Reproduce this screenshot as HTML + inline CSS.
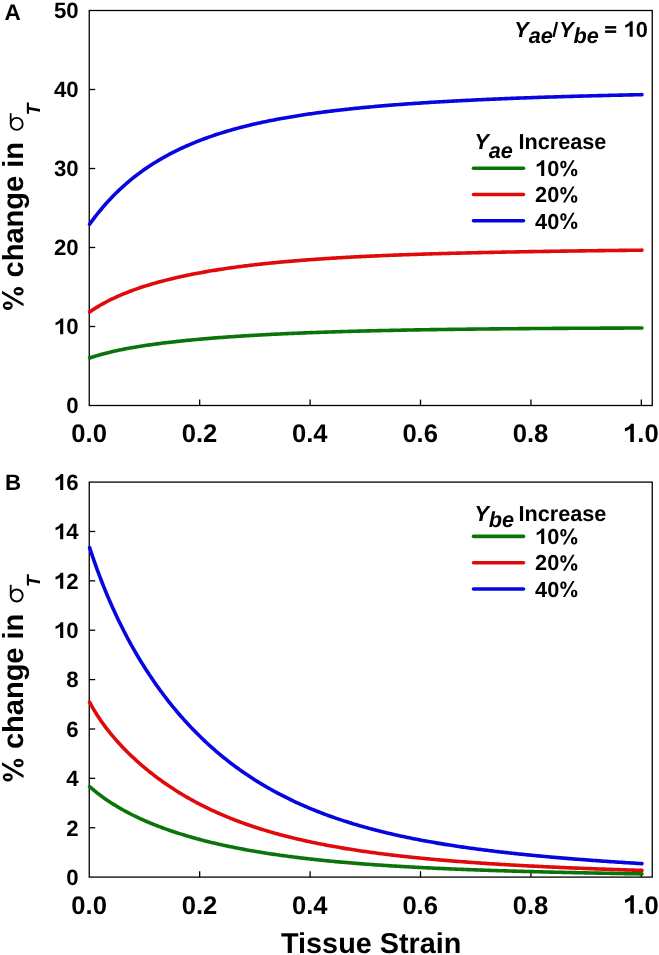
<!DOCTYPE html>
<html><head><meta charset="utf-8">
<style>
html,body{margin:0;padding:0;background:#fff;}
body{width:659px;height:955px;overflow:hidden;}
svg{display:block;will-change:transform;}
.h1,.hp{fill:none;}
text{font-family:"Liberation Sans",sans-serif;font-weight:bold;fill:#000;text-rendering:geometricPrecision;}
</style></head>
<body>
<svg width="659" height="955" viewBox="0 0 659 955">
<rect x="89.25" y="10.5" width="563.0" height="395.0" fill="none" stroke="#000" stroke-width="1.3"/>
<g stroke="#000" stroke-width="1.3">
<line x1="89.25" y1="326.50" x2="95.2" y2="326.50"/>
<line x1="89.25" y1="247.50" x2="95.2" y2="247.50"/>
<line x1="89.25" y1="168.50" x2="95.2" y2="168.50"/>
<line x1="89.25" y1="89.50" x2="95.2" y2="89.50"/>
<line x1="199.67" y1="405.5" x2="199.67" y2="399.6"/>
<line x1="310.09" y1="405.5" x2="310.09" y2="399.6"/>
<line x1="420.51" y1="405.5" x2="420.51" y2="399.6"/>
<line x1="530.93" y1="405.5" x2="530.93" y2="399.6"/>
<line x1="641.35" y1="405.5" x2="641.35" y2="399.6"/>
</g>
<g font-size="22.2" text-anchor="end">
<text x="78.6" y="413.35">0</text>
<text x="78.6" y="334.35"><tspan class="h1">1</tspan>0</text>
<text x="78.6" y="255.35">20</text>
<text x="78.6" y="176.35">30</text>
<text x="78.6" y="97.35">40</text>
<text x="78.6" y="18.35">50</text>
</g>
<g font-size="25.6" text-anchor="middle">
<text x="89.10" y="442.00">0.0</text>
<text x="199.46" y="442.00">0.2</text>
<text x="309.82" y="442.00">0.4</text>
<text x="420.18" y="442.00">0.6</text>
<text x="530.54" y="442.00">0.8</text>
<text x="640.90" y="442.00"><tspan class="h1">1</tspan>.0</text>
</g>
<path d="M89.60,224.25 L91.10,222.17 L92.60,220.12 L94.10,218.12 L95.60,216.17 L97.10,214.25 L98.60,212.37 L100.10,210.53 L101.60,208.73 L103.10,206.96 L104.60,205.23 L106.10,203.54 L107.60,201.87 L109.10,200.24 L110.60,198.65 L112.10,197.08 L113.60,195.54 L115.10,194.03 L116.60,192.55 L118.10,191.10 L119.60,189.67 L121.10,188.28 L122.60,186.90 L124.10,185.56 L125.60,184.23 L127.10,182.94 L128.60,181.66 L130.10,180.41 L131.60,179.18 L133.10,177.97 L134.60,176.78 L136.10,175.62 L137.60,174.47 L139.10,173.35 L140.60,172.24 L142.10,171.16 L143.60,170.09 L145.10,169.04 L146.60,168.01 L148.10,166.99 L149.60,166.00 L151.10,165.02 L152.60,164.05 L154.10,163.10 L155.60,162.17 L157.10,161.26 L158.60,160.35 L160.10,159.47 L161.60,158.59 L163.10,157.74 L164.60,156.89 L166.10,156.06 L167.60,155.24 L169.10,154.44 L170.60,153.65 L172.10,152.87 L173.60,152.10 L175.10,151.35 L176.60,150.61 L178.10,149.88 L179.60,149.16 L181.10,148.45 L182.60,147.75 L184.10,147.07 L185.60,146.39 L187.10,145.73 L188.60,145.07 L190.10,144.43 L191.60,143.79 L193.10,143.16 L194.60,142.55 L196.10,141.94 L197.60,141.34 L199.10,140.75 L200.60,140.17 L202.10,139.60 L203.60,139.04 L205.10,138.49 L206.60,137.94 L208.10,137.40 L209.60,136.87 L211.10,136.35 L212.60,135.83 L214.10,135.32 L215.60,134.82 L217.10,134.33 L218.60,133.85 L220.10,133.37 L221.60,132.89 L223.10,132.43 L224.60,131.97 L226.10,131.52 L227.60,131.07 L229.10,130.63 L230.60,130.20 L232.10,129.77 L233.60,129.35 L235.10,128.93 L236.60,128.52 L238.10,128.12 L239.60,127.72 L241.10,127.33 L242.60,126.94 L244.10,126.56 L245.60,126.18 L247.10,125.81 L248.60,125.44 L250.10,125.08 L251.60,124.72 L253.10,124.37 L254.60,124.02 L256.10,123.68 L257.60,123.34 L259.10,123.01 L260.60,122.68 L262.10,122.35 L263.60,122.03 L265.10,121.72 L266.60,121.40 L268.10,121.09 L269.60,120.79 L271.10,120.49 L272.60,120.19 L274.10,119.90 L275.60,119.61 L277.10,119.33 L278.60,119.04 L280.10,118.77 L281.60,118.49 L283.10,118.22 L284.60,117.95 L286.10,117.69 L287.60,117.43 L289.10,117.17 L290.60,116.91 L292.10,116.66 L293.60,116.41 L295.10,116.17 L296.60,115.93 L298.10,115.69 L299.60,115.45 L301.10,115.22 L302.60,114.99 L304.10,114.76 L305.60,114.53 L307.10,114.31 L308.60,114.09 L310.10,113.87 L311.60,113.66 L313.10,113.45 L314.60,113.24 L316.10,113.03 L317.60,112.83 L319.10,112.62 L320.60,112.42 L322.10,112.23 L323.60,112.03 L325.10,111.84 L326.60,111.65 L328.10,111.46 L329.60,111.27 L331.10,111.09 L332.60,110.91 L334.10,110.73 L335.60,110.55 L337.10,110.37 L338.60,110.20 L340.10,110.02 L341.60,109.85 L343.10,109.69 L344.60,109.52 L346.10,109.35 L347.60,109.19 L349.10,109.03 L350.60,108.87 L352.10,108.71 L353.60,108.56 L355.10,108.40 L356.60,108.25 L358.10,108.10 L359.60,107.95 L361.10,107.80 L362.60,107.66 L364.10,107.51 L365.60,107.37 L367.10,107.23 L368.60,107.09 L370.10,106.95 L371.60,106.81 L373.10,106.68 L374.60,106.54 L376.10,106.41 L377.60,106.28 L379.10,106.15 L380.60,106.02 L382.10,105.89 L383.60,105.77 L385.10,105.64 L386.60,105.52 L388.10,105.39 L389.60,105.27 L391.10,105.15 L392.60,105.03 L394.10,104.92 L395.60,104.80 L397.10,104.68 L398.60,104.57 L400.10,104.46 L401.60,104.34 L403.10,104.23 L404.60,104.12 L406.10,104.02 L407.60,103.91 L409.10,103.80 L410.60,103.70 L412.10,103.59 L413.60,103.49 L415.10,103.38 L416.60,103.28 L418.10,103.18 L419.60,103.08 L421.10,102.98 L422.60,102.89 L424.10,102.79 L425.60,102.69 L427.10,102.60 L428.60,102.50 L430.10,102.41 L431.60,102.32 L433.10,102.22 L434.60,102.13 L436.10,102.04 L437.60,101.95 L439.10,101.87 L440.60,101.78 L442.10,101.69 L443.60,101.60 L445.10,101.52 L446.60,101.43 L448.10,101.35 L449.60,101.27 L451.10,101.19 L452.60,101.10 L454.10,101.02 L455.60,100.94 L457.10,100.86 L458.60,100.78 L460.10,100.71 L461.60,100.63 L463.10,100.55 L464.60,100.48 L466.10,100.40 L467.60,100.33 L469.10,100.25 L470.60,100.18 L472.10,100.10 L473.60,100.03 L475.10,99.96 L476.60,99.89 L478.10,99.82 L479.60,99.75 L481.10,99.68 L482.60,99.61 L484.10,99.54 L485.60,99.47 L487.10,99.41 L488.60,99.34 L490.10,99.27 L491.60,99.21 L493.10,99.14 L494.60,99.08 L496.10,99.02 L497.60,98.95 L499.10,98.89 L500.60,98.83 L502.10,98.77 L503.60,98.70 L505.10,98.64 L506.60,98.58 L508.10,98.52 L509.60,98.46 L511.10,98.40 L512.60,98.35 L514.10,98.29 L515.60,98.23 L517.10,98.17 L518.60,98.12 L520.10,98.06 L521.60,98.01 L523.10,97.95 L524.60,97.89 L526.10,97.84 L527.60,97.79 L529.10,97.73 L530.60,97.68 L532.10,97.63 L533.60,97.57 L535.10,97.52 L536.60,97.47 L538.10,97.42 L539.60,97.37 L541.10,97.32 L542.60,97.27 L544.10,97.22 L545.60,97.17 L547.10,97.12 L548.60,97.07 L550.10,97.02 L551.60,96.98 L553.10,96.93 L554.60,96.88 L556.10,96.83 L557.60,96.79 L559.10,96.74 L560.60,96.70 L562.10,96.65 L563.60,96.60 L565.10,96.56 L566.60,96.52 L568.10,96.47 L569.60,96.43 L571.10,96.38 L572.60,96.34 L574.10,96.30 L575.60,96.26 L577.10,96.21 L578.60,96.17 L580.10,96.13 L581.60,96.09 L583.10,96.05 L584.60,96.01 L586.10,95.97 L587.60,95.93 L589.10,95.89 L590.60,95.85 L592.10,95.81 L593.60,95.77 L595.10,95.73 L596.60,95.69 L598.10,95.65 L599.60,95.61 L601.10,95.58 L602.60,95.54 L604.10,95.50 L605.60,95.47 L607.10,95.43 L608.60,95.39 L610.10,95.36 L611.60,95.32 L613.10,95.29 L614.60,95.25 L616.10,95.21 L617.60,95.18 L619.10,95.15 L620.60,95.11 L622.10,95.08 L623.60,95.04 L625.10,95.01 L626.60,94.98 L628.10,94.94 L629.60,94.91 L631.10,94.88 L632.60,94.84 L634.10,94.81 L635.60,94.78 L637.10,94.75 L638.60,94.72 L640.10,94.68 L641.60,94.65 L641.95,94.65" fill="none" stroke="#0606e0" stroke-width="3.6" stroke-linecap="round" stroke-linejoin="round"/>
<path d="M89.60,311.95 L91.10,310.93 L92.60,309.93 L94.10,308.96 L95.60,308.02 L97.10,307.10 L98.60,306.20 L100.10,305.32 L101.60,304.47 L103.10,303.63 L104.60,302.81 L106.10,302.01 L107.60,301.23 L109.10,300.47 L110.60,299.72 L112.10,298.99 L113.60,298.27 L115.10,297.57 L116.60,296.89 L118.10,296.22 L119.60,295.56 L121.10,294.91 L122.60,294.28 L124.10,293.66 L125.60,293.05 L127.10,292.46 L128.60,291.87 L130.10,291.30 L131.60,290.73 L133.10,290.18 L134.60,289.64 L136.10,289.10 L137.60,288.58 L139.10,288.07 L140.60,287.56 L142.10,287.06 L143.60,286.57 L145.10,286.09 L146.60,285.62 L148.10,285.16 L149.60,284.70 L151.10,284.25 L152.60,283.81 L154.10,283.37 L155.60,282.94 L157.10,282.52 L158.60,282.11 L160.10,281.70 L161.60,281.30 L163.10,280.90 L164.60,280.51 L166.10,280.13 L167.60,279.75 L169.10,279.38 L170.60,279.01 L172.10,278.65 L173.60,278.29 L175.10,277.94 L176.60,277.59 L178.10,277.25 L179.60,276.92 L181.10,276.58 L182.60,276.26 L184.10,275.94 L185.60,275.62 L187.10,275.30 L188.60,275.00 L190.10,274.69 L191.60,274.39 L193.10,274.10 L194.60,273.80 L196.10,273.52 L197.60,273.23 L199.10,272.95 L200.60,272.67 L202.10,272.40 L203.60,272.13 L205.10,271.87 L206.60,271.61 L208.10,271.35 L209.60,271.09 L211.10,270.84 L212.60,270.59 L214.10,270.35 L215.60,270.11 L217.10,269.87 L218.60,269.63 L220.10,269.40 L221.60,269.17 L223.10,268.94 L224.60,268.72 L226.10,268.50 L227.60,268.28 L229.10,268.07 L230.60,267.85 L232.10,267.64 L233.60,267.44 L235.10,267.23 L236.60,267.03 L238.10,266.83 L239.60,266.63 L241.10,266.44 L242.60,266.25 L244.10,266.06 L245.60,265.87 L247.10,265.69 L248.60,265.51 L250.10,265.33 L251.60,265.15 L253.10,264.97 L254.60,264.80 L256.10,264.63 L257.60,264.46 L259.10,264.29 L260.60,264.13 L262.10,263.96 L263.60,263.80 L265.10,263.64 L266.60,263.49 L268.10,263.33 L269.60,263.18 L271.10,263.03 L272.60,262.88 L274.10,262.73 L275.60,262.59 L277.10,262.44 L278.60,262.30 L280.10,262.16 L281.60,262.02 L283.10,261.88 L284.60,261.75 L286.10,261.61 L287.60,261.48 L289.10,261.35 L290.60,261.22 L292.10,261.09 L293.60,260.97 L295.10,260.84 L296.60,260.72 L298.10,260.60 L299.60,260.48 L301.10,260.36 L302.60,260.24 L304.10,260.13 L305.60,260.01 L307.10,259.90 L308.60,259.79 L310.10,259.68 L311.60,259.57 L313.10,259.46 L314.60,259.35 L316.10,259.25 L317.60,259.14 L319.10,259.04 L320.60,258.94 L322.10,258.84 L323.60,258.74 L325.10,258.64 L326.60,258.55 L328.10,258.45 L329.60,258.35 L331.10,258.26 L332.60,258.17 L334.10,258.08 L335.60,257.99 L337.10,257.90 L338.60,257.81 L340.10,257.72 L341.60,257.63 L343.10,257.55 L344.60,257.46 L346.10,257.38 L347.60,257.30 L349.10,257.22 L350.60,257.14 L352.10,257.06 L353.60,256.98 L355.10,256.90 L356.60,256.82 L358.10,256.75 L359.60,256.67 L361.10,256.60 L362.60,256.52 L364.10,256.45 L365.60,256.38 L367.10,256.31 L368.60,256.23 L370.10,256.16 L371.60,256.10 L373.10,256.03 L374.60,255.96 L376.10,255.89 L377.60,255.83 L379.10,255.76 L380.60,255.70 L382.10,255.63 L383.60,255.57 L385.10,255.51 L386.60,255.45 L388.10,255.38 L389.60,255.32 L391.10,255.26 L392.60,255.20 L394.10,255.15 L395.60,255.09 L397.10,255.03 L398.60,254.97 L400.10,254.92 L401.60,254.86 L403.10,254.81 L404.60,254.75 L406.10,254.70 L407.60,254.65 L409.10,254.59 L410.60,254.54 L412.10,254.49 L413.60,254.44 L415.10,254.39 L416.60,254.34 L418.10,254.29 L419.60,254.24 L421.10,254.19 L422.60,254.14 L424.10,254.09 L425.60,254.05 L427.10,254.00 L428.60,253.95 L430.10,253.91 L431.60,253.86 L433.10,253.82 L434.60,253.77 L436.10,253.73 L437.60,253.69 L439.10,253.64 L440.60,253.60 L442.10,253.56 L443.60,253.52 L445.10,253.48 L446.60,253.43 L448.10,253.39 L449.60,253.35 L451.10,253.31 L452.60,253.27 L454.10,253.24 L455.60,253.20 L457.10,253.16 L458.60,253.12 L460.10,253.08 L461.60,253.05 L463.10,253.01 L464.60,252.97 L466.10,252.94 L467.60,252.90 L469.10,252.86 L470.60,252.83 L472.10,252.79 L473.60,252.76 L475.10,252.72 L476.60,252.69 L478.10,252.66 L479.60,252.62 L481.10,252.59 L482.60,252.56 L484.10,252.52 L485.60,252.49 L487.10,252.46 L488.60,252.43 L490.10,252.40 L491.60,252.37 L493.10,252.33 L494.60,252.30 L496.10,252.27 L497.60,252.24 L499.10,252.21 L500.60,252.18 L502.10,252.15 L503.60,252.13 L505.10,252.10 L506.60,252.07 L508.10,252.04 L509.60,252.01 L511.10,251.98 L512.60,251.96 L514.10,251.93 L515.60,251.90 L517.10,251.87 L518.60,251.85 L520.10,251.82 L521.60,251.79 L523.10,251.77 L524.60,251.74 L526.10,251.72 L527.60,251.69 L529.10,251.66 L530.60,251.64 L532.10,251.61 L533.60,251.59 L535.10,251.56 L536.60,251.54 L538.10,251.52 L539.60,251.49 L541.10,251.47 L542.60,251.44 L544.10,251.42 L545.60,251.40 L547.10,251.37 L548.60,251.35 L550.10,251.33 L551.60,251.30 L553.10,251.28 L554.60,251.26 L556.10,251.24 L557.60,251.21 L559.10,251.19 L560.60,251.17 L562.10,251.15 L563.60,251.13 L565.10,251.11 L566.60,251.08 L568.10,251.06 L569.60,251.04 L571.10,251.02 L572.60,251.00 L574.10,250.98 L575.60,250.96 L577.10,250.94 L578.60,250.92 L580.10,250.90 L581.60,250.88 L583.10,250.86 L584.60,250.84 L586.10,250.82 L587.60,250.80 L589.10,250.78 L590.60,250.76 L592.10,250.74 L593.60,250.72 L595.10,250.70 L596.60,250.68 L598.10,250.67 L599.60,250.65 L601.10,250.63 L602.60,250.61 L604.10,250.59 L605.60,250.57 L607.10,250.55 L608.60,250.54 L610.10,250.52 L611.60,250.50 L613.10,250.48 L614.60,250.47 L616.10,250.45 L617.60,250.43 L619.10,250.41 L620.60,250.40 L622.10,250.38 L623.60,250.36 L625.10,250.34 L626.60,250.33 L628.10,250.31 L629.60,250.29 L631.10,250.28 L632.60,250.26 L634.10,250.24 L635.60,250.23 L637.10,250.21 L638.60,250.19 L640.10,250.18 L641.60,250.16 L641.95,250.16" fill="none" stroke="#e00a0a" stroke-width="3.6" stroke-linecap="round" stroke-linejoin="round"/>
<path d="M89.60,357.97 L91.10,357.47 L92.60,356.99 L94.10,356.51 L95.60,356.05 L97.10,355.61 L98.60,355.17 L100.10,354.74 L101.60,354.33 L103.10,353.93 L104.60,353.53 L106.10,353.15 L107.60,352.77 L109.10,352.40 L110.60,352.04 L112.10,351.69 L113.60,351.35 L115.10,351.01 L116.60,350.68 L118.10,350.36 L119.60,350.05 L121.10,349.74 L122.60,349.44 L124.10,349.14 L125.60,348.85 L127.10,348.57 L128.60,348.29 L130.10,348.02 L131.60,347.75 L133.10,347.49 L134.60,347.23 L136.10,346.98 L137.60,346.73 L139.10,346.48 L140.60,346.24 L142.10,346.01 L143.60,345.78 L145.10,345.55 L146.60,345.32 L148.10,345.10 L149.60,344.89 L151.10,344.67 L152.60,344.46 L154.10,344.26 L155.60,344.05 L157.10,343.85 L158.60,343.66 L160.10,343.46 L161.60,343.27 L163.10,343.08 L164.60,342.90 L166.10,342.72 L167.60,342.54 L169.10,342.36 L170.60,342.18 L172.10,342.01 L173.60,341.84 L175.10,341.67 L176.60,341.51 L178.10,341.35 L179.60,341.18 L181.10,341.03 L182.60,340.87 L184.10,340.72 L185.60,340.56 L187.10,340.41 L188.60,340.26 L190.10,340.12 L191.60,339.97 L193.10,339.83 L194.60,339.69 L196.10,339.55 L197.60,339.42 L199.10,339.28 L200.60,339.15 L202.10,339.01 L203.60,338.88 L205.10,338.76 L206.60,338.63 L208.10,338.50 L209.60,338.38 L211.10,338.26 L212.60,338.14 L214.10,338.02 L215.60,337.90 L217.10,337.78 L218.60,337.67 L220.10,337.55 L221.60,337.44 L223.10,337.33 L224.60,337.22 L226.10,337.11 L227.60,337.00 L229.10,336.90 L230.60,336.79 L232.10,336.69 L233.60,336.59 L235.10,336.49 L236.60,336.39 L238.10,336.29 L239.60,336.19 L241.10,336.09 L242.60,336.00 L244.10,335.90 L245.60,335.81 L247.10,335.72 L248.60,335.63 L250.10,335.54 L251.60,335.45 L253.10,335.36 L254.60,335.27 L256.10,335.19 L257.60,335.10 L259.10,335.02 L260.60,334.94 L262.10,334.86 L263.60,334.77 L265.10,334.69 L266.60,334.61 L268.10,334.54 L269.60,334.46 L271.10,334.38 L272.60,334.31 L274.10,334.23 L275.60,334.16 L277.10,334.09 L278.60,334.01 L280.10,333.94 L281.60,333.87 L283.10,333.80 L284.60,333.73 L286.10,333.66 L287.60,333.60 L289.10,333.53 L290.60,333.46 L292.10,333.40 L293.60,333.33 L295.10,333.27 L296.60,333.21 L298.10,333.14 L299.60,333.08 L301.10,333.02 L302.60,332.96 L304.10,332.90 L305.60,332.84 L307.10,332.78 L308.60,332.73 L310.10,332.67 L311.60,332.61 L313.10,332.56 L314.60,332.50 L316.10,332.45 L317.60,332.39 L319.10,332.34 L320.60,332.29 L322.10,332.23 L323.60,332.18 L325.10,332.13 L326.60,332.08 L328.10,332.03 L329.60,331.98 L331.10,331.93 L332.60,331.89 L334.10,331.84 L335.60,331.79 L337.10,331.74 L338.60,331.70 L340.10,331.65 L341.60,331.61 L343.10,331.56 L344.60,331.52 L346.10,331.47 L347.60,331.43 L349.10,331.39 L350.60,331.35 L352.10,331.30 L353.60,331.26 L355.10,331.22 L356.60,331.18 L358.10,331.14 L359.60,331.10 L361.10,331.06 L362.60,331.03 L364.10,330.99 L365.60,330.95 L367.10,330.91 L368.60,330.88 L370.10,330.84 L371.60,330.80 L373.10,330.77 L374.60,330.73 L376.10,330.70 L377.60,330.66 L379.10,330.63 L380.60,330.59 L382.10,330.56 L383.60,330.53 L385.10,330.50 L386.60,330.46 L388.10,330.43 L389.60,330.40 L391.10,330.37 L392.60,330.34 L394.10,330.31 L395.60,330.28 L397.10,330.25 L398.60,330.22 L400.10,330.19 L401.60,330.16 L403.10,330.13 L404.60,330.10 L406.10,330.08 L407.60,330.05 L409.10,330.02 L410.60,329.99 L412.10,329.97 L413.60,329.94 L415.10,329.91 L416.60,329.89 L418.10,329.86 L419.60,329.84 L421.10,329.81 L422.60,329.79 L424.10,329.76 L425.60,329.74 L427.10,329.72 L428.60,329.69 L430.10,329.67 L431.60,329.65 L433.10,329.62 L434.60,329.60 L436.10,329.58 L437.60,329.56 L439.10,329.53 L440.60,329.51 L442.10,329.49 L443.60,329.47 L445.10,329.45 L446.60,329.43 L448.10,329.41 L449.60,329.39 L451.10,329.37 L452.60,329.35 L454.10,329.33 L455.60,329.31 L457.10,329.29 L458.60,329.27 L460.10,329.25 L461.60,329.23 L463.10,329.22 L464.60,329.20 L466.10,329.18 L467.60,329.16 L469.10,329.14 L470.60,329.13 L472.10,329.11 L473.60,329.09 L475.10,329.08 L476.60,329.06 L478.10,329.04 L479.60,329.03 L481.10,329.01 L482.60,329.00 L484.10,328.98 L485.60,328.96 L487.10,328.95 L488.60,328.93 L490.10,328.92 L491.60,328.90 L493.10,328.89 L494.60,328.87 L496.10,328.86 L497.60,328.85 L499.10,328.83 L500.60,328.82 L502.10,328.80 L503.60,328.79 L505.10,328.78 L506.60,328.76 L508.10,328.75 L509.60,328.74 L511.10,328.73 L512.60,328.71 L514.10,328.70 L515.60,328.69 L517.10,328.68 L518.60,328.66 L520.10,328.65 L521.60,328.64 L523.10,328.63 L524.60,328.62 L526.10,328.61 L527.60,328.59 L529.10,328.58 L530.60,328.57 L532.10,328.56 L533.60,328.55 L535.10,328.54 L536.60,328.53 L538.10,328.52 L539.60,328.51 L541.10,328.50 L542.60,328.49 L544.10,328.48 L545.60,328.47 L547.10,328.46 L548.60,328.45 L550.10,328.44 L551.60,328.43 L553.10,328.42 L554.60,328.41 L556.10,328.40 L557.60,328.39 L559.10,328.38 L560.60,328.37 L562.10,328.37 L563.60,328.36 L565.10,328.35 L566.60,328.34 L568.10,328.33 L569.60,328.32 L571.10,328.32 L572.60,328.31 L574.10,328.30 L575.60,328.29 L577.10,328.28 L578.60,328.28 L580.10,328.27 L581.60,328.26 L583.10,328.25 L584.60,328.25 L586.10,328.24 L587.60,328.23 L589.10,328.22 L590.60,328.22 L592.10,328.21 L593.60,328.20 L595.10,328.20 L596.60,328.19 L598.10,328.18 L599.60,328.18 L601.10,328.17 L602.60,328.16 L604.10,328.16 L605.60,328.15 L607.10,328.14 L608.60,328.14 L610.10,328.13 L611.60,328.12 L613.10,328.12 L614.60,328.11 L616.10,328.11 L617.60,328.10 L619.10,328.10 L620.60,328.09 L622.10,328.08 L623.60,328.08 L625.10,328.07 L626.60,328.07 L628.10,328.06 L629.60,328.06 L631.10,328.05 L632.60,328.05 L634.10,328.04 L635.60,328.04 L637.10,328.03 L638.60,328.03 L640.10,328.02 L641.60,328.02 L641.95,328.02" fill="none" stroke="#0a740a" stroke-width="3.6" stroke-linecap="round" stroke-linejoin="round"/>
<rect x="89.25" y="482.1" width="563.0" height="395.0" fill="none" stroke="#000" stroke-width="1.3"/>
<g stroke="#000" stroke-width="1.3">
<line x1="89.25" y1="827.73" x2="95.2" y2="827.73"/>
<line x1="89.25" y1="778.35" x2="95.2" y2="778.35"/>
<line x1="89.25" y1="728.98" x2="95.2" y2="728.98"/>
<line x1="89.25" y1="679.60" x2="95.2" y2="679.60"/>
<line x1="89.25" y1="630.23" x2="95.2" y2="630.23"/>
<line x1="89.25" y1="580.85" x2="95.2" y2="580.85"/>
<line x1="89.25" y1="531.48" x2="95.2" y2="531.48"/>
<line x1="199.67" y1="877.1" x2="199.67" y2="871.2"/>
<line x1="310.09" y1="877.1" x2="310.09" y2="871.2"/>
<line x1="420.51" y1="877.1" x2="420.51" y2="871.2"/>
<line x1="530.93" y1="877.1" x2="530.93" y2="871.2"/>
<line x1="641.35" y1="877.1" x2="641.35" y2="871.2"/>
</g>
<g font-size="22.2" text-anchor="end">
<text x="78.6" y="884.95">0</text>
<text x="78.6" y="835.58">2</text>
<text x="78.6" y="786.20">4</text>
<text x="78.6" y="736.83">6</text>
<text x="78.6" y="687.45">8</text>
<text x="78.6" y="638.08"><tspan class="h1">1</tspan>0</text>
<text x="78.6" y="588.70"><tspan class="h1">1</tspan>2</text>
<text x="78.6" y="539.33"><tspan class="h1">1</tspan>4</text>
<text x="78.6" y="489.95"><tspan class="h1">1</tspan>6</text>
</g>
<g font-size="25.6" text-anchor="middle">
<text x="89.10" y="913.60">0.0</text>
<text x="199.46" y="913.60">0.2</text>
<text x="309.82" y="913.60">0.4</text>
<text x="420.18" y="913.60">0.6</text>
<text x="530.54" y="913.60">0.8</text>
<text x="640.90" y="913.60"><tspan class="h1">1</tspan>.0</text>
</g>
<path d="M89.60,547.60 L91.10,552.15 L92.60,556.60 L94.10,560.94 L95.60,565.19 L97.10,569.34 L98.60,573.40 L100.10,577.38 L101.60,581.27 L103.10,585.08 L104.60,588.82 L106.10,592.48 L107.60,596.07 L109.10,599.59 L110.60,603.05 L112.10,606.44 L113.60,609.77 L115.10,613.04 L116.60,616.25 L118.10,619.40 L119.60,622.50 L121.10,625.55 L122.60,628.54 L124.10,631.49 L125.60,634.38 L127.10,637.23 L128.60,640.04 L130.10,642.80 L131.60,645.52 L133.10,648.19 L134.60,650.82 L136.10,653.42 L137.60,655.97 L139.10,658.49 L140.60,660.97 L142.10,663.41 L143.60,665.82 L145.10,668.20 L146.60,670.54 L148.10,672.84 L149.60,675.12 L151.10,677.36 L152.60,679.57 L154.10,681.76 L155.60,683.91 L157.10,686.03 L158.60,688.13 L160.10,690.19 L161.60,692.23 L163.10,694.25 L164.60,696.23 L166.10,698.19 L167.60,700.13 L169.10,702.04 L170.60,703.92 L172.10,705.78 L173.60,707.62 L175.10,709.43 L176.60,711.22 L178.10,712.99 L179.60,714.74 L181.10,716.46 L182.60,718.16 L184.10,719.84 L185.60,721.50 L187.10,723.14 L188.60,724.76 L190.10,726.36 L191.60,727.94 L193.10,729.50 L194.60,731.04 L196.10,732.57 L197.60,734.07 L199.10,735.56 L200.60,737.03 L202.10,738.48 L203.60,739.91 L205.10,741.32 L206.60,742.72 L208.10,744.10 L209.60,745.47 L211.10,746.82 L212.60,748.15 L214.10,749.47 L215.60,750.77 L217.10,752.05 L218.60,753.32 L220.10,754.58 L221.60,755.82 L223.10,757.04 L224.60,758.25 L226.10,759.45 L227.60,760.63 L229.10,761.80 L230.60,762.96 L232.10,764.10 L233.60,765.23 L235.10,766.34 L236.60,767.45 L238.10,768.54 L239.60,769.61 L241.10,770.68 L242.60,771.73 L244.10,772.77 L245.60,773.79 L247.10,774.81 L248.60,775.81 L250.10,776.80 L251.60,777.79 L253.10,778.75 L254.60,779.71 L256.10,780.66 L257.60,781.60 L259.10,782.52 L260.60,783.44 L262.10,784.34 L263.60,785.23 L265.10,786.12 L266.60,786.99 L268.10,787.85 L269.60,788.71 L271.10,789.55 L272.60,790.38 L274.10,791.21 L275.60,792.02 L277.10,792.83 L278.60,793.63 L280.10,794.41 L281.60,795.19 L283.10,795.96 L284.60,796.72 L286.10,797.48 L287.60,798.22 L289.10,798.95 L290.60,799.68 L292.10,800.40 L293.60,801.11 L295.10,801.81 L296.60,802.51 L298.10,803.20 L299.60,803.88 L301.10,804.55 L302.60,805.21 L304.10,805.87 L305.60,806.52 L307.10,807.16 L308.60,807.80 L310.10,808.42 L311.60,809.04 L313.10,809.66 L314.60,810.27 L316.10,810.87 L317.60,811.46 L319.10,812.05 L320.60,812.63 L322.10,813.20 L323.60,813.77 L325.10,814.33 L326.60,814.89 L328.10,815.44 L329.60,815.98 L331.10,816.52 L332.60,817.05 L334.10,817.58 L335.60,818.09 L337.10,818.61 L338.60,819.12 L340.10,819.62 L341.60,820.12 L343.10,820.61 L344.60,821.10 L346.10,821.58 L347.60,822.06 L349.10,822.53 L350.60,822.99 L352.10,823.45 L353.60,823.91 L355.10,824.36 L356.60,824.81 L358.10,825.25 L359.60,825.69 L361.10,826.12 L362.60,826.55 L364.10,826.97 L365.60,827.39 L367.10,827.80 L368.60,828.21 L370.10,828.62 L371.60,829.02 L373.10,829.41 L374.60,829.81 L376.10,830.20 L377.60,830.58 L379.10,830.96 L380.60,831.34 L382.10,831.71 L383.60,832.08 L385.10,832.44 L386.60,832.80 L388.10,833.16 L389.60,833.51 L391.10,833.86 L392.60,834.21 L394.10,834.55 L395.60,834.89 L397.10,835.23 L398.60,835.56 L400.10,835.89 L401.60,836.21 L403.10,836.53 L404.60,836.85 L406.10,837.17 L407.60,837.48 L409.10,837.79 L410.60,838.10 L412.10,838.40 L413.60,838.70 L415.10,839.00 L416.60,839.29 L418.10,839.58 L419.60,839.87 L421.10,840.15 L422.60,840.44 L424.10,840.72 L425.60,840.99 L427.10,841.27 L428.60,841.54 L430.10,841.81 L431.60,842.07 L433.10,842.34 L434.60,842.60 L436.10,842.86 L437.60,843.11 L439.10,843.37 L440.60,843.62 L442.10,843.87 L443.60,844.11 L445.10,844.36 L446.60,844.60 L448.10,844.84 L449.60,845.07 L451.10,845.31 L452.60,845.54 L454.10,845.77 L455.60,846.00 L457.10,846.22 L458.60,846.45 L460.10,846.67 L461.60,846.89 L463.10,847.11 L464.60,847.32 L466.10,847.54 L467.60,847.75 L469.10,847.96 L470.60,848.17 L472.10,848.37 L473.60,848.58 L475.10,848.78 L476.60,848.98 L478.10,849.18 L479.60,849.37 L481.10,849.57 L482.60,849.76 L484.10,849.95 L485.60,850.14 L487.10,850.33 L488.60,850.52 L490.10,850.70 L491.60,850.89 L493.10,851.07 L494.60,851.25 L496.10,851.43 L497.60,851.60 L499.10,851.78 L500.60,851.95 L502.10,852.12 L503.60,852.30 L505.10,852.47 L506.60,852.63 L508.10,852.80 L509.60,852.97 L511.10,853.13 L512.60,853.29 L514.10,853.45 L515.60,853.61 L517.10,853.77 L518.60,853.93 L520.10,854.09 L521.60,854.24 L523.10,854.39 L524.60,854.55 L526.10,854.70 L527.60,854.85 L529.10,855.00 L530.60,855.14 L532.10,855.29 L533.60,855.43 L535.10,855.58 L536.60,855.72 L538.10,855.86 L539.60,856.00 L541.10,856.14 L542.60,856.28 L544.10,856.42 L545.60,856.56 L547.10,856.69 L548.60,856.83 L550.10,856.96 L551.60,857.09 L553.10,857.22 L554.60,857.35 L556.10,857.48 L557.60,857.61 L559.10,857.74 L560.60,857.87 L562.10,857.99 L563.60,858.12 L565.10,858.24 L566.60,858.36 L568.10,858.49 L569.60,858.61 L571.10,858.73 L572.60,858.85 L574.10,858.97 L575.60,859.09 L577.10,859.20 L578.60,859.32 L580.10,859.43 L581.60,859.55 L583.10,859.66 L584.60,859.78 L586.10,859.89 L587.60,860.00 L589.10,860.11 L590.60,860.22 L592.10,860.33 L593.60,860.44 L595.10,860.55 L596.60,860.66 L598.10,860.77 L599.60,860.87 L601.10,860.98 L602.60,861.08 L604.10,861.19 L605.60,861.29 L607.10,861.39 L608.60,861.50 L610.10,861.60 L611.60,861.70 L613.10,861.80 L614.60,861.90 L616.10,862.00 L617.60,862.10 L619.10,862.20 L620.60,862.29 L622.10,862.39 L623.60,862.49 L625.10,862.58 L626.60,862.68 L628.10,862.77 L629.60,862.87 L631.10,862.96 L632.60,863.06 L634.10,863.15 L635.60,863.24 L637.10,863.33 L638.60,863.43 L640.10,863.52 L641.60,863.61 L641.95,863.63" fill="none" stroke="#0606e0" stroke-width="3.6" stroke-linecap="round" stroke-linejoin="round"/>
<path d="M89.60,702.09 L91.10,704.87 L92.60,707.54 L94.10,710.11 L95.60,712.59 L97.10,714.98 L98.60,717.30 L100.10,719.53 L101.60,721.71 L103.10,723.82 L104.60,725.87 L106.10,727.87 L107.60,729.82 L109.10,731.72 L110.60,733.58 L112.10,735.40 L113.60,737.18 L115.10,738.92 L116.60,740.63 L118.10,742.31 L119.60,743.95 L121.10,745.57 L122.60,747.15 L124.10,748.71 L125.60,750.24 L127.10,751.75 L128.60,753.23 L130.10,754.69 L131.60,756.13 L133.10,757.54 L134.60,758.94 L136.10,760.31 L137.60,761.66 L139.10,762.99 L140.60,764.31 L142.10,765.60 L143.60,766.88 L145.10,768.14 L146.60,769.38 L148.10,770.60 L149.60,771.81 L151.10,773.00 L152.60,774.18 L154.10,775.34 L155.60,776.48 L157.10,777.61 L158.60,778.72 L160.10,779.82 L161.60,780.90 L163.10,781.97 L164.60,783.03 L166.10,784.07 L167.60,785.10 L169.10,786.12 L170.60,787.12 L172.10,788.11 L173.60,789.08 L175.10,790.05 L176.60,791.00 L178.10,791.94 L179.60,792.86 L181.10,793.78 L182.60,794.68 L184.10,795.57 L185.60,796.45 L187.10,797.32 L188.60,798.18 L190.10,799.03 L191.60,799.86 L193.10,800.69 L194.60,801.51 L196.10,802.31 L197.60,803.11 L199.10,803.89 L200.60,804.67 L202.10,805.43 L203.60,806.19 L205.10,806.94 L206.60,807.67 L208.10,808.40 L209.60,809.12 L211.10,809.83 L212.60,810.53 L214.10,811.22 L215.60,811.91 L217.10,812.58 L218.60,813.25 L220.10,813.91 L221.60,814.56 L223.10,815.20 L224.60,815.84 L226.10,816.46 L227.60,817.08 L229.10,817.70 L230.60,818.30 L232.10,818.90 L233.60,819.49 L235.10,820.07 L236.60,820.64 L238.10,821.21 L239.60,821.77 L241.10,822.33 L242.60,822.88 L244.10,823.42 L245.60,823.95 L247.10,824.48 L248.60,825.00 L250.10,825.52 L251.60,826.03 L253.10,826.53 L254.60,827.03 L256.10,827.52 L257.60,828.01 L259.10,828.48 L260.60,828.96 L262.10,829.43 L263.60,829.89 L265.10,830.35 L266.60,830.80 L268.10,831.25 L269.60,831.69 L271.10,832.12 L272.60,832.55 L274.10,832.98 L275.60,833.40 L277.10,833.82 L278.60,834.23 L280.10,834.64 L281.60,835.04 L283.10,835.43 L284.60,835.83 L286.10,836.21 L287.60,836.60 L289.10,836.98 L290.60,837.35 L292.10,837.72 L293.60,838.09 L295.10,838.45 L296.60,838.81 L298.10,839.16 L299.60,839.51 L301.10,839.86 L302.60,840.20 L304.10,840.53 L305.60,840.87 L307.10,841.20 L308.60,841.52 L310.10,841.85 L311.60,842.17 L313.10,842.48 L314.60,842.79 L316.10,843.10 L317.60,843.41 L319.10,843.71 L320.60,844.01 L322.10,844.30 L323.60,844.59 L325.10,844.88 L326.60,845.17 L328.10,845.45 L329.60,845.73 L331.10,846.00 L332.60,846.28 L334.10,846.55 L335.60,846.81 L337.10,847.08 L338.60,847.34 L340.10,847.60 L341.60,847.85 L343.10,848.11 L344.60,848.36 L346.10,848.60 L347.60,848.85 L349.10,849.09 L350.60,849.33 L352.10,849.57 L353.60,849.80 L355.10,850.03 L356.60,850.26 L358.10,850.49 L359.60,850.71 L361.10,850.94 L362.60,851.16 L364.10,851.37 L365.60,851.59 L367.10,851.80 L368.60,852.01 L370.10,852.22 L371.60,852.43 L373.10,852.63 L374.60,852.83 L376.10,853.03 L377.60,853.23 L379.10,853.43 L380.60,853.62 L382.10,853.81 L383.60,854.00 L385.10,854.19 L386.60,854.38 L388.10,854.56 L389.60,854.74 L391.10,854.92 L392.60,855.10 L394.10,855.28 L395.60,855.45 L397.10,855.63 L398.60,855.80 L400.10,855.97 L401.60,856.14 L403.10,856.30 L404.60,856.47 L406.10,856.63 L407.60,856.79 L409.10,856.95 L410.60,857.11 L412.10,857.27 L413.60,857.43 L415.10,857.58 L416.60,857.73 L418.10,857.88 L419.60,858.03 L421.10,858.18 L422.60,858.33 L424.10,858.47 L425.60,858.62 L427.10,858.76 L428.60,858.90 L430.10,859.04 L431.60,859.18 L433.10,859.31 L434.60,859.45 L436.10,859.58 L437.60,859.72 L439.10,859.85 L440.60,859.98 L442.10,860.11 L443.60,860.24 L445.10,860.36 L446.60,860.49 L448.10,860.62 L449.60,860.74 L451.10,860.86 L452.60,860.98 L454.10,861.10 L455.60,861.22 L457.10,861.34 L458.60,861.46 L460.10,861.57 L461.60,861.69 L463.10,861.80 L464.60,861.91 L466.10,862.03 L467.60,862.14 L469.10,862.25 L470.60,862.36 L472.10,862.46 L473.60,862.57 L475.10,862.68 L476.60,862.78 L478.10,862.88 L479.60,862.99 L481.10,863.09 L482.60,863.19 L484.10,863.29 L485.60,863.39 L487.10,863.49 L488.60,863.59 L490.10,863.69 L491.60,863.78 L493.10,863.88 L494.60,863.97 L496.10,864.06 L497.60,864.16 L499.10,864.25 L500.60,864.34 L502.10,864.43 L503.60,864.52 L505.10,864.61 L506.60,864.70 L508.10,864.79 L509.60,864.87 L511.10,864.96 L512.60,865.04 L514.10,865.13 L515.60,865.21 L517.10,865.30 L518.60,865.38 L520.10,865.46 L521.60,865.54 L523.10,865.62 L524.60,865.70 L526.10,865.78 L527.60,865.86 L529.10,865.94 L530.60,866.02 L532.10,866.09 L533.60,866.17 L535.10,866.25 L536.60,866.32 L538.10,866.39 L539.60,866.47 L541.10,866.54 L542.60,866.61 L544.10,866.69 L545.60,866.76 L547.10,866.83 L548.60,866.90 L550.10,866.97 L551.60,867.04 L553.10,867.11 L554.60,867.17 L556.10,867.24 L557.60,867.31 L559.10,867.38 L560.60,867.44 L562.10,867.51 L563.60,867.57 L565.10,867.64 L566.60,867.70 L568.10,867.76 L569.60,867.83 L571.10,867.89 L572.60,867.95 L574.10,868.01 L575.60,868.08 L577.10,868.14 L578.60,868.20 L580.10,868.26 L581.60,868.32 L583.10,868.37 L584.60,868.43 L586.10,868.49 L587.60,868.55 L589.10,868.61 L590.60,868.66 L592.10,868.72 L593.60,868.78 L595.10,868.83 L596.60,868.89 L598.10,868.94 L599.60,869.00 L601.10,869.05 L602.60,869.10 L604.10,869.16 L605.60,869.21 L607.10,869.26 L608.60,869.31 L610.10,869.37 L611.60,869.42 L613.10,869.47 L614.60,869.52 L616.10,869.57 L617.60,869.62 L619.10,869.67 L620.60,869.72 L622.10,869.77 L623.60,869.82 L625.10,869.86 L626.60,869.91 L628.10,869.96 L629.60,870.01 L631.10,870.05 L632.60,870.10 L634.10,870.15 L635.60,870.19 L637.10,870.24 L638.60,870.28 L640.10,870.33 L641.60,870.37 L641.95,870.38" fill="none" stroke="#e00a0a" stroke-width="3.6" stroke-linecap="round" stroke-linejoin="round"/>
<path d="M89.60,786.58 L91.10,787.89 L92.60,789.17 L94.10,790.42 L95.60,791.64 L97.10,792.83 L98.60,794.00 L100.10,795.14 L101.60,796.25 L103.10,797.35 L104.60,798.41 L106.10,799.46 L107.60,800.49 L109.10,801.49 L110.60,802.48 L112.10,803.45 L113.60,804.39 L115.10,805.32 L116.60,806.23 L118.10,807.13 L119.60,808.01 L121.10,808.87 L122.60,809.72 L124.10,810.55 L125.60,811.37 L127.10,812.17 L128.60,812.96 L130.10,813.73 L131.60,814.50 L133.10,815.25 L134.60,815.99 L136.10,816.71 L137.60,817.43 L139.10,818.13 L140.60,818.82 L142.10,819.50 L143.60,820.17 L145.10,820.83 L146.60,821.49 L148.10,822.13 L149.60,822.76 L151.10,823.38 L152.60,823.99 L154.10,824.60 L155.60,825.19 L157.10,825.78 L158.60,826.35 L160.10,826.92 L161.60,827.49 L163.10,828.04 L164.60,828.59 L166.10,829.13 L167.60,829.66 L169.10,830.18 L170.60,830.70 L172.10,831.21 L173.60,831.71 L175.10,832.21 L176.60,832.70 L178.10,833.18 L179.60,833.66 L181.10,834.13 L182.60,834.59 L184.10,835.05 L185.60,835.50 L187.10,835.95 L188.60,836.39 L190.10,836.83 L191.60,837.26 L193.10,837.68 L194.60,838.10 L196.10,838.51 L197.60,838.92 L199.10,839.33 L200.60,839.73 L202.10,840.12 L203.60,840.51 L205.10,840.89 L206.60,841.27 L208.10,841.64 L209.60,842.01 L211.10,842.38 L212.60,842.74 L214.10,843.10 L215.60,843.45 L217.10,843.80 L218.60,844.14 L220.10,844.48 L221.60,844.81 L223.10,845.15 L224.60,845.47 L226.10,845.80 L227.60,846.12 L229.10,846.43 L230.60,846.74 L232.10,847.05 L233.60,847.36 L235.10,847.66 L236.60,847.95 L238.10,848.25 L239.60,848.54 L241.10,848.83 L242.60,849.11 L244.10,849.39 L245.60,849.67 L247.10,849.94 L248.60,850.21 L250.10,850.48 L251.60,850.74 L253.10,851.00 L254.60,851.26 L256.10,851.52 L257.60,851.77 L259.10,852.02 L260.60,852.26 L262.10,852.51 L263.60,852.75 L265.10,852.99 L266.60,853.22 L268.10,853.45 L269.60,853.68 L271.10,853.91 L272.60,854.14 L274.10,854.36 L275.60,854.58 L277.10,854.79 L278.60,855.01 L280.10,855.22 L281.60,855.43 L283.10,855.64 L284.60,855.84 L286.10,856.04 L287.60,856.24 L289.10,856.44 L290.60,856.64 L292.10,856.83 L293.60,857.02 L295.10,857.21 L296.60,857.40 L298.10,857.58 L299.60,857.77 L301.10,857.95 L302.60,858.13 L304.10,858.30 L305.60,858.48 L307.10,858.65 L308.60,858.82 L310.10,858.99 L311.60,859.16 L313.10,859.32 L314.60,859.49 L316.10,859.65 L317.60,859.81 L319.10,859.97 L320.60,860.12 L322.10,860.28 L323.60,860.43 L325.10,860.58 L326.60,860.73 L328.10,860.88 L329.60,861.02 L331.10,861.17 L332.60,861.31 L334.10,861.45 L335.60,861.59 L337.10,861.73 L338.60,861.87 L340.10,862.00 L341.60,862.14 L343.10,862.27 L344.60,862.40 L346.10,862.53 L347.60,862.66 L349.10,862.79 L350.60,862.91 L352.10,863.04 L353.60,863.16 L355.10,863.28 L356.60,863.40 L358.10,863.52 L359.60,863.64 L361.10,863.75 L362.60,863.87 L364.10,863.98 L365.60,864.10 L367.10,864.21 L368.60,864.32 L370.10,864.43 L371.60,864.53 L373.10,864.64 L374.60,864.75 L376.10,864.85 L377.60,864.96 L379.10,865.06 L380.60,865.16 L382.10,865.26 L383.60,865.36 L385.10,865.46 L386.60,865.55 L388.10,865.65 L389.60,865.75 L391.10,865.84 L392.60,865.93 L394.10,866.03 L395.60,866.12 L397.10,866.21 L398.60,866.30 L400.10,866.39 L401.60,866.47 L403.10,866.56 L404.60,866.65 L406.10,866.73 L407.60,866.82 L409.10,866.90 L410.60,866.98 L412.10,867.06 L413.60,867.15 L415.10,867.23 L416.60,867.30 L418.10,867.38 L419.60,867.46 L421.10,867.54 L422.60,867.61 L424.10,867.69 L425.60,867.76 L427.10,867.84 L428.60,867.91 L430.10,867.98 L431.60,868.06 L433.10,868.13 L434.60,868.20 L436.10,868.27 L437.60,868.34 L439.10,868.40 L440.60,868.47 L442.10,868.54 L443.60,868.61 L445.10,868.67 L446.60,868.74 L448.10,868.80 L449.60,868.87 L451.10,868.93 L452.60,868.99 L454.10,869.05 L455.60,869.12 L457.10,869.18 L458.60,869.24 L460.10,869.30 L461.60,869.36 L463.10,869.42 L464.60,869.47 L466.10,869.53 L467.60,869.59 L469.10,869.64 L470.60,869.70 L472.10,869.76 L473.60,869.81 L475.10,869.87 L476.60,869.92 L478.10,869.97 L479.60,870.03 L481.10,870.08 L482.60,870.13 L484.10,870.18 L485.60,870.24 L487.10,870.29 L488.60,870.34 L490.10,870.39 L491.60,870.44 L493.10,870.49 L494.60,870.53 L496.10,870.58 L497.60,870.63 L499.10,870.68 L500.60,870.72 L502.10,870.77 L503.60,870.82 L505.10,870.86 L506.60,870.91 L508.10,870.95 L509.60,871.00 L511.10,871.04 L512.60,871.09 L514.10,871.13 L515.60,871.17 L517.10,871.22 L518.60,871.26 L520.10,871.30 L521.60,871.34 L523.10,871.39 L524.60,871.43 L526.10,871.47 L527.60,871.51 L529.10,871.55 L530.60,871.59 L532.10,871.63 L533.60,871.67 L535.10,871.71 L536.60,871.74 L538.10,871.78 L539.60,871.82 L541.10,871.86 L542.60,871.90 L544.10,871.93 L545.60,871.97 L547.10,872.01 L548.60,872.04 L550.10,872.08 L551.60,872.11 L553.10,872.15 L554.60,872.19 L556.10,872.22 L557.60,872.26 L559.10,872.29 L560.60,872.32 L562.10,872.36 L563.60,872.39 L565.10,872.43 L566.60,872.46 L568.10,872.49 L569.60,872.52 L571.10,872.56 L572.60,872.59 L574.10,872.62 L575.60,872.65 L577.10,872.69 L578.60,872.72 L580.10,872.75 L581.60,872.78 L583.10,872.81 L584.60,872.84 L586.10,872.87 L587.60,872.90 L589.10,872.93 L590.60,872.96 L592.10,872.99 L593.60,873.02 L595.10,873.05 L596.60,873.08 L598.10,873.11 L599.60,873.14 L601.10,873.16 L602.60,873.19 L604.10,873.22 L605.60,873.25 L607.10,873.28 L608.60,873.30 L610.10,873.33 L611.60,873.36 L613.10,873.39 L614.60,873.41 L616.10,873.44 L617.60,873.47 L619.10,873.49 L620.60,873.52 L622.10,873.55 L623.60,873.57 L625.10,873.60 L626.60,873.62 L628.10,873.65 L629.60,873.67 L631.10,873.70 L632.60,873.72 L634.10,873.75 L635.60,873.77 L637.10,873.80 L638.60,873.82 L640.10,873.85 L641.60,873.87 L641.95,873.88" fill="none" stroke="#0a740a" stroke-width="3.6" stroke-linecap="round" stroke-linejoin="round"/>
<text transform="translate(23.0 311.3) rotate(-90)" font-size="29"><tspan class="hp">%</tspan> change in</text>
<g transform="translate(0 0)" fill="none" stroke="#000" stroke-width="1.8"><circle cx="16.7" cy="123.9" r="6.0"/><path d="M10.7,113.2 L10.7,124"/></g>
<text transform="translate(39.8 115.3) rotate(-90)" font-size="19.1" font-style="italic">T</text>
<text transform="translate(23.0 782.9000000000001) rotate(-90)" font-size="29"><tspan class="hp">%</tspan> change in</text>
<g transform="translate(0 471.6)" fill="none" stroke="#000" stroke-width="1.8"><circle cx="16.7" cy="123.9" r="6.0"/><path d="M10.7,113.2 L10.7,124"/></g>
<text transform="translate(39.8 586.9) rotate(-90)" font-size="19.1" font-style="italic">T</text>
<text x="474.4" y="149.2" font-size="21.7" font-style="italic">Y</text>
<text x="488.7" y="157.7" font-size="21.7" font-style="italic">ae</text>
<text x="518.4" y="149.2" font-size="21.7">Increase</text>
<line x1="473.5" y1="168.20" x2="523.5" y2="168.20" stroke="#0a740a" stroke-width="3.6" stroke-linecap="round"/>
<text x="535.1" y="175.90" font-size="21.7"><tspan class="h1">1</tspan>0<tspan class="hp">%</tspan></text>
<line x1="473.5" y1="194.50" x2="523.5" y2="194.50" stroke="#e00a0a" stroke-width="3.6" stroke-linecap="round"/>
<text x="535.1" y="202.20" font-size="21.7">20<tspan class="hp">%</tspan></text>
<line x1="473.5" y1="220.80" x2="523.5" y2="220.80" stroke="#0606e0" stroke-width="3.6" stroke-linecap="round"/>
<text x="535.1" y="228.50" font-size="21.7">40<tspan class="hp">%</tspan></text>
<text x="474.4" y="520.9" font-size="21.7" font-style="italic">Y</text>
<text x="488.7" y="527.1999999999999" font-size="21.7" font-style="italic">be</text>
<text x="518.4" y="520.9" font-size="21.7">Increase</text>
<line x1="473.5" y1="536.40" x2="523.5" y2="536.40" stroke="#0a740a" stroke-width="3.6" stroke-linecap="round"/>
<text x="535.1" y="544.10" font-size="21.7"><tspan class="h1">1</tspan>0<tspan class="hp">%</tspan></text>
<line x1="473.5" y1="562.70" x2="523.5" y2="562.70" stroke="#e00a0a" stroke-width="3.6" stroke-linecap="round"/>
<text x="535.1" y="570.40" font-size="21.7">20<tspan class="hp">%</tspan></text>
<line x1="473.5" y1="589.00" x2="523.5" y2="589.00" stroke="#0606e0" stroke-width="3.6" stroke-linecap="round"/>
<text x="535.1" y="596.70" font-size="21.7">40<tspan class="hp">%</tspan></text>
<text x="4.4" y="19.8" font-size="22.5">A</text>
<text x="5.1" y="490" font-size="22.3">B</text>
<text x="514.3" y="36.7" font-size="21.7" font-style="italic">Y</text>
<text x="528.8" y="42.8" font-size="21.7" font-style="italic">ae</text>
<path d="M557.0,21.9 L553.4,36.9" stroke="#000" stroke-width="2.3"/>
<text x="559.2" y="36.7" font-size="21.7" font-style="italic">Y</text>
<text x="573.5" y="43.2" font-size="21.7" font-style="italic">be</text>
<rect x="605.1" y="26.1" width="11.1" height="2.5"/><rect x="605.1" y="30.4" width="11.1" height="2.5"/>
<text x="647.7" y="36.7" font-size="21.7" text-anchor="end"><tspan class="h1">1</tspan>0</text>
<text x="371.2" y="952.6" font-size="28.8" text-anchor="middle">Tissue Strain</text>
<g fill="#000"><path d="M860 0H574V1059Q410 915 150 840V1101Q300 1140 440 1240Q579 1340 630 1466H860Z" fill-rule="evenodd" transform="matrix(0.01084 0.00000 0.00000 -0.01084 53.91 334.35)"/><path d="M860 0H574V1059Q410 915 150 840V1101Q300 1140 440 1240Q579 1340 630 1466H860Z" fill-rule="evenodd" transform="matrix(0.01250 0.00000 0.00000 -0.01250 623.10 442.00)"/><path d="M860 0H574V1059Q410 915 150 840V1101Q300 1140 440 1240Q579 1340 630 1466H860Z" fill-rule="evenodd" transform="matrix(0.01084 0.00000 0.00000 -0.01084 53.91 638.08)"/><path d="M860 0H574V1059Q410 915 150 840V1101Q300 1140 440 1240Q579 1340 630 1466H860Z" fill-rule="evenodd" transform="matrix(0.01084 0.00000 0.00000 -0.01084 53.91 588.70)"/><path d="M860 0H574V1059Q410 915 150 840V1101Q300 1140 440 1240Q579 1340 630 1466H860Z" fill-rule="evenodd" transform="matrix(0.01084 0.00000 0.00000 -0.01084 53.91 539.33)"/><path d="M860 0H574V1059Q410 915 150 840V1101Q300 1140 440 1240Q579 1340 630 1466H860Z" fill-rule="evenodd" transform="matrix(0.01084 0.00000 0.00000 -0.01084 53.91 489.95)"/><path d="M860 0H574V1059Q410 915 150 840V1101Q300 1140 440 1240Q579 1340 630 1466H860Z" fill-rule="evenodd" transform="matrix(0.01250 0.00000 0.00000 -0.01250 623.10 913.60)"/><path d="M100 1075A295 352 0 1 0 690 1075A295 352 0 1 0 100 1075ZM300 1075A95 215 0 1 0 490 1075A95 215 0 1 0 300 1075ZM1110 312A300 355 0 1 0 1710 312A300 355 0 1 0 1110 312ZM1310 312A100 218 0 1 0 1510 312A100 218 0 1 0 1310 312ZM350 -40H555L1452 1482H1247Z" fill-rule="evenodd" transform="matrix(0.00000 -0.01416 -0.01416 0.00000 23.00 311.30)"/><path d="M100 1075A295 352 0 1 0 690 1075A295 352 0 1 0 100 1075ZM300 1075A95 215 0 1 0 490 1075A95 215 0 1 0 300 1075ZM1110 312A300 355 0 1 0 1710 312A300 355 0 1 0 1110 312ZM1310 312A100 218 0 1 0 1510 312A100 218 0 1 0 1310 312ZM350 -40H555L1452 1482H1247Z" fill-rule="evenodd" transform="matrix(0.00000 -0.01416 -0.01416 0.00000 23.00 782.90)"/><path d="M860 0H574V1059Q410 915 150 840V1101Q300 1140 440 1240Q579 1340 630 1466H860Z" fill-rule="evenodd" transform="matrix(0.01060 0.00000 0.00000 -0.01060 535.10 175.90)"/><path d="M100 1075A295 352 0 1 0 690 1075A295 352 0 1 0 100 1075ZM300 1075A95 215 0 1 0 490 1075A95 215 0 1 0 300 1075ZM1110 312A300 355 0 1 0 1710 312A300 355 0 1 0 1110 312ZM1310 312A100 218 0 1 0 1510 312A100 218 0 1 0 1310 312ZM350 -40H555L1452 1482H1247Z" fill-rule="evenodd" transform="matrix(0.01060 0.00000 0.00000 -0.01060 559.22 175.90)"/><path d="M100 1075A295 352 0 1 0 690 1075A295 352 0 1 0 100 1075ZM300 1075A95 215 0 1 0 490 1075A95 215 0 1 0 300 1075ZM1110 312A300 355 0 1 0 1710 312A300 355 0 1 0 1110 312ZM1310 312A100 218 0 1 0 1510 312A100 218 0 1 0 1310 312ZM350 -40H555L1452 1482H1247Z" fill-rule="evenodd" transform="matrix(0.01060 0.00000 0.00000 -0.01060 559.22 202.20)"/><path d="M100 1075A295 352 0 1 0 690 1075A295 352 0 1 0 100 1075ZM300 1075A95 215 0 1 0 490 1075A95 215 0 1 0 300 1075ZM1110 312A300 355 0 1 0 1710 312A300 355 0 1 0 1110 312ZM1310 312A100 218 0 1 0 1510 312A100 218 0 1 0 1310 312ZM350 -40H555L1452 1482H1247Z" fill-rule="evenodd" transform="matrix(0.01060 0.00000 0.00000 -0.01060 559.22 228.50)"/><path d="M860 0H574V1059Q410 915 150 840V1101Q300 1140 440 1240Q579 1340 630 1466H860Z" fill-rule="evenodd" transform="matrix(0.01060 0.00000 0.00000 -0.01060 535.10 544.10)"/><path d="M100 1075A295 352 0 1 0 690 1075A295 352 0 1 0 100 1075ZM300 1075A95 215 0 1 0 490 1075A95 215 0 1 0 300 1075ZM1110 312A300 355 0 1 0 1710 312A300 355 0 1 0 1110 312ZM1310 312A100 218 0 1 0 1510 312A100 218 0 1 0 1310 312ZM350 -40H555L1452 1482H1247Z" fill-rule="evenodd" transform="matrix(0.01060 0.00000 0.00000 -0.01060 559.22 544.10)"/><path d="M100 1075A295 352 0 1 0 690 1075A295 352 0 1 0 100 1075ZM300 1075A95 215 0 1 0 490 1075A95 215 0 1 0 300 1075ZM1110 312A300 355 0 1 0 1710 312A300 355 0 1 0 1110 312ZM1310 312A100 218 0 1 0 1510 312A100 218 0 1 0 1310 312ZM350 -40H555L1452 1482H1247Z" fill-rule="evenodd" transform="matrix(0.01060 0.00000 0.00000 -0.01060 559.22 570.40)"/><path d="M100 1075A295 352 0 1 0 690 1075A295 352 0 1 0 100 1075ZM300 1075A95 215 0 1 0 490 1075A95 215 0 1 0 300 1075ZM1110 312A300 355 0 1 0 1710 312A300 355 0 1 0 1110 312ZM1310 312A100 218 0 1 0 1510 312A100 218 0 1 0 1310 312ZM350 -40H555L1452 1482H1247Z" fill-rule="evenodd" transform="matrix(0.01060 0.00000 0.00000 -0.01060 559.22 596.70)"/><path d="M860 0H574V1059Q410 915 150 840V1101Q300 1140 440 1240Q579 1340 630 1466H860Z" fill-rule="evenodd" transform="matrix(0.01060 0.00000 0.00000 -0.01060 623.58 36.70)"/></g>
</svg>
</body></html>
